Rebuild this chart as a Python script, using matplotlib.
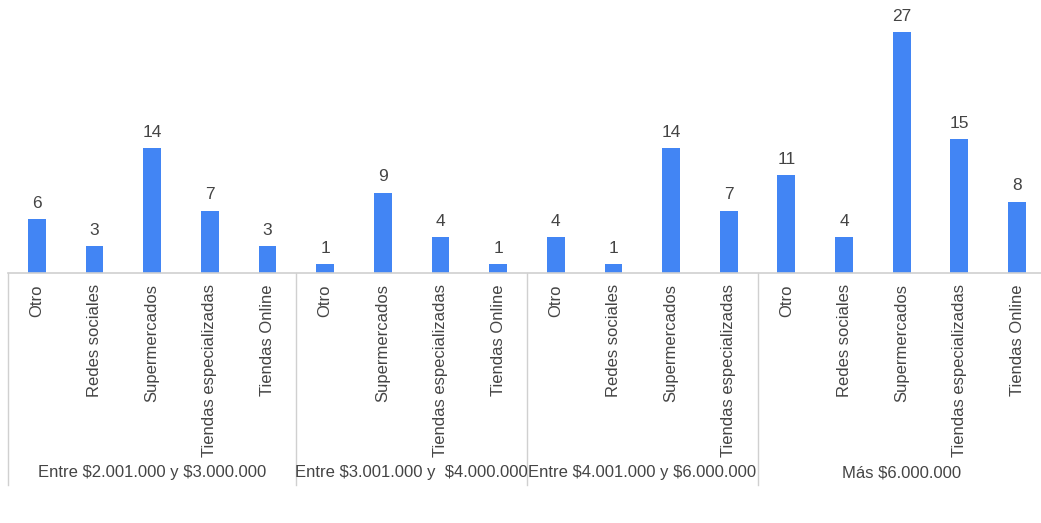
import matplotlib.pyplot as plt

plt.rcParams['font.family'] = ['Liberation Sans', 'DejaVu Sans']

# Ingreso del hogar -> canal de compra -> cantidad de respuestas
groups = ['Entre $2.001.000 y $3.000.000',
          'Entre $3.001.000 y  $4.000.000',
          'Entre $4.001.000 y $6.000.000',
          'Más $6.000.000']
channels = [
    ['Otro', 'Redes sociales', 'Supermercados', 'Tiendas especializadas', 'Tiendas Online'],
    ['Otro', 'Supermercados', 'Tiendas especializadas', 'Tiendas Online'],
    ['Otro', 'Redes sociales', 'Supermercados', 'Tiendas especializadas'],
    ['Otro', 'Redes sociales', 'Supermercados', 'Tiendas especializadas', 'Tiendas Online'],
]
counts = [
    [6, 3, 14, 7, 3],
    [1, 9, 4, 1],
    [4, 1, 14, 7],
    [11, 4, 27, 15, 8],
]

bar_color = '#4285F4'
text_color = '#444444'
line_color = '#d0d0d0'

W, H = 1041, 523
fig = plt.figure(figsize=(W / 100, H / 100), dpi=100)
ax = fig.add_axes([8 / W, (H - 273) / H, (W - 8) / W, 273 / H])

labels, values = [], []
for ch, ct in zip(channels, counts):
    labels += ch
    values += ct
x = list(range(len(values)))

ax.bar(x, values, width=0.31, color=bar_color, zorder=2)
for xi, v in zip(x, values):
    ax.annotate(str(v), (xi, v), xytext=(0, 6), textcoords='offset points',
                ha='center', va='bottom', fontsize=12.5, color=text_color)

ax.set_xlim(-0.5, 17.415)
ax.set_ylim(0, 30.6)
ax.set_yticks([])
ax.set_xticks([])
for s in ['top', 'right', 'left']:
    ax.spines[s].set_visible(False)
ax.spines['bottom'].set_color(line_color)
ax.spines['bottom'].set_linewidth(1.2)

# category labels under each bar
for xi, lab in zip(x, labels):
    ax.annotate(lab, (xi, 0), xytext=(0, -8), textcoords='offset points',
                rotation=90, ha='center', va='top', fontsize=12,
                color=text_color, annotation_clip=False)

# group separators and group labels
trans = ax.get_xaxis_transform()
start = 0
for g, ct in zip(groups, counts):
    end = start + len(ct)
    ax.plot([start - 0.5, start - 0.5], [0, -212 / 273], transform=trans,
            color=line_color, lw=1, clip_on=False)
    ax.text((start + end - 1) / 2, -200 / 273, g, transform=trans,
            ha='center', va='center', fontsize=12, color=text_color,
            parse_math=False)
    start = end

fig.savefig('out.png', dpi=100, facecolor='white')
